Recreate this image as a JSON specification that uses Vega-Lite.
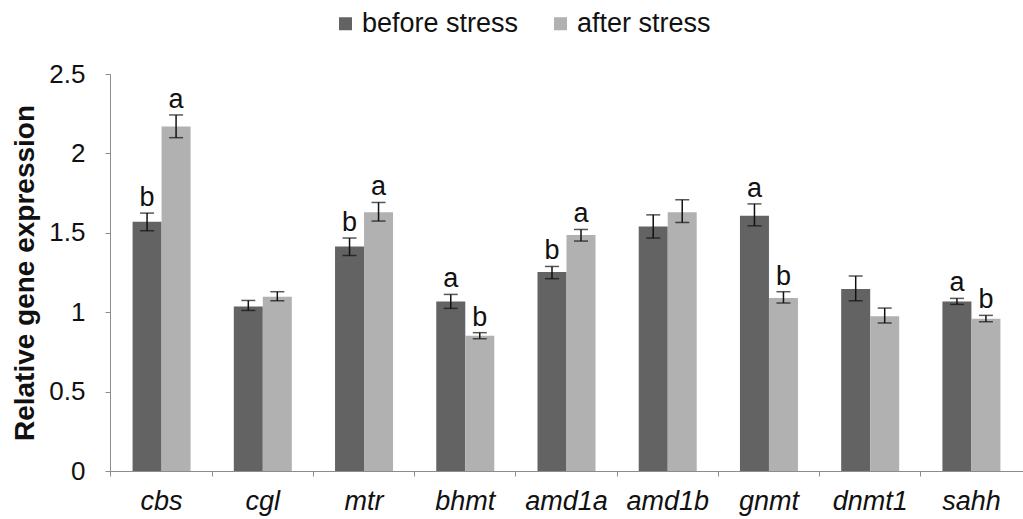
{
  "$schema": "https://vega.github.io/schema/vega-lite/v6.json",
  "autosize": {"type": "none"},
  "padding": {"left": 110, "top": 74, "right": 0, "bottom": 48},
  "width": 913,
  "height": 397,
  "background": "white",
  "config": {
    "font": "Liberation Sans",
    "view": {"stroke": null}
  },
  "data": {
    "values": [
      {"gene": "cbs", "group": "before stress", "mean": 1.57, "lo": 1.513, "hi": 1.624, "sig": "b"},
      {"gene": "cbs", "group": "after stress", "mean": 2.17, "lo": 2.099, "hi": 2.242, "sig": "a"},
      {"gene": "cgl", "group": "before stress", "mean": 1.036, "lo": 1.011, "hi": 1.074, "sig": ""},
      {"gene": "cgl", "group": "after stress", "mean": 1.097, "lo": 1.072, "hi": 1.129, "sig": ""},
      {"gene": "mtr", "group": "before stress", "mean": 1.414, "lo": 1.357, "hi": 1.467, "sig": "b"},
      {"gene": "mtr", "group": "after stress", "mean": 1.63, "lo": 1.574, "hi": 1.691, "sig": "a"},
      {"gene": "bhmt", "group": "before stress", "mean": 1.068, "lo": 1.024, "hi": 1.112, "sig": "a"},
      {"gene": "bhmt", "group": "after stress", "mean": 0.852, "lo": 0.833, "hi": 0.871, "sig": "b"},
      {"gene": "amd1a", "group": "before stress", "mean": 1.253, "lo": 1.211, "hi": 1.288, "sig": "b"},
      {"gene": "amd1a", "group": "after stress", "mean": 1.486, "lo": 1.448, "hi": 1.521, "sig": "a"},
      {"gene": "amd1b", "group": "before stress", "mean": 1.54, "lo": 1.467, "hi": 1.613, "sig": ""},
      {"gene": "amd1b", "group": "after stress", "mean": 1.63, "lo": 1.565, "hi": 1.708, "sig": ""},
      {"gene": "gnmt", "group": "before stress", "mean": 1.607, "lo": 1.544, "hi": 1.682, "sig": "a"},
      {"gene": "gnmt", "group": "after stress", "mean": 1.089, "lo": 1.058, "hi": 1.129, "sig": "b"},
      {"gene": "dnmt1", "group": "before stress", "mean": 1.146, "lo": 1.072, "hi": 1.228, "sig": ""},
      {"gene": "dnmt1", "group": "after stress", "mean": 0.974, "lo": 0.932, "hi": 1.026, "sig": ""},
      {"gene": "sahh", "group": "before stress", "mean": 1.068, "lo": 1.049, "hi": 1.087, "sig": "a"},
      {"gene": "sahh", "group": "after stress", "mean": 0.959, "lo": 0.94, "hi": 0.98, "sig": "b"}
    ]
  },
  "encoding": {
    "x": {
      "field": "gene",
      "type": "nominal",
      "sort": null,
      "scale": {"paddingInner": 0.427, "paddingOuter": 0.223},
      "axis": {
        "title": null,
        "labelAngle": 0,
        "labelFont": "Liberation Sans",
        "labelFontStyle": "italic",
        "labelFontSize": 27,
        "labelColor": "#111111",
        "labelPadding": 12,
        "bandPosition": -0.3726,
        "domainColor": "#8c8c8c",
        "tickColor": "#8c8c8c",
        "tickSize": 5,
        "domainWidth": 1,
        "tickWidth": 1
      }
    },
    "xOffset": {
      "field": "group",
      "type": "nominal",
      "sort": ["before stress", "after stress"],
      "scale": {"paddingInner": 0, "paddingOuter": 0}
    }
  },
  "layer": [
    {
      "mark": {"type": "bar"},
      "encoding": {
        "y": {
          "field": "mean",
          "type": "quantitative",
          "scale": {"domain": [0, 2.5], "nice": false},
          "axis": {
            "title": "Relative gene expression",
            "titleFont": "Liberation Sans",
            "titleFontSize": 28,
            "titleFontWeight": "bold",
            "titleColor": "#111111",
            "titleAngle": 270,
            "titleX": -85,
            "titleY": 198.5,
            "titleAlign": "center",
            "titleBaseline": "middle",
            "values": [0, 0.5, 1, 1.5, 2, 2.5],
            "format": "~g",
            "labelFontSize": 26,
            "labelColor": "#111111",
            "labelPadding": 20,
            "grid": false,
            "domainColor": "#8c8c8c",
            "tickColor": "#8c8c8c",
            "tickSize": 5
          }
        },
        "color": {
          "field": "group",
          "type": "nominal",
          "sort": ["before stress", "after stress"],
          "scale": {"domain": ["before stress", "after stress"], "range": ["#636363", "#b1b1b1"]},
          "legend": {
            "title": null,
            "orient": "none",
            "legendX": 222,
            "legendY": -64,
            "direction": "horizontal",
            "symbolType": "square",
            "symbolSize": 169,
            "symbolStrokeWidth": 0,
            "symbolOpacity": 1,
            "labelFontSize": 27,
            "labelColor": "#111111",
            "labelOffset": 3,
            "columnPadding": 28
          }
        }
      }
    },
    {
      "mark": {"type": "rule", "color": "#111111", "strokeWidth": 1.5},
      "encoding": {
        "y": {"field": "lo", "type": "quantitative"},
        "y2": {"field": "hi"}
      }
    },
    {
      "mark": {"type": "tick", "color": "#111111", "thickness": 1.5, "size": 14, "orient": "horizontal"},
      "encoding": {"y": {"field": "hi", "type": "quantitative"}}
    },
    {
      "mark": {"type": "tick", "color": "#111111", "thickness": 1.5, "size": 14, "orient": "horizontal"},
      "encoding": {"y": {"field": "lo", "type": "quantitative"}}
    },
    {
      "mark": {"type": "text", "fontSize": 27, "color": "#111111", "baseline": "alphabetic", "dy": -7},
      "encoding": {
        "y": {"field": "hi", "type": "quantitative"},
        "text": {"field": "sig"}
      }
    }
  ]
}
